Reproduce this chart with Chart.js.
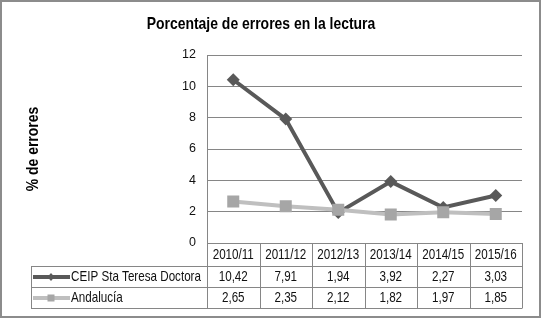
<!DOCTYPE html>
<html>
<head>
<meta charset="utf-8">
<script src="https://cdn.jsdelivr.net/npm/chart.js@4.4.1/dist/chart.umd.min.js"></script>
<style>
  body { margin: 0; background: #fff; }
  canvas { display: block; }
</style>
</head>
<body>
<canvas id="chartErrores" width="542" height="320"></canvas>
<script>
// Datos del gráfico
var cursos = ['2010/11', '2011/12', '2012/13', '2013/14', '2014/15', '2015/16'];
var valoresCentro = [10.42, 7.91, 1.94, 3.92, 2.27, 3.03];
var valoresAndalucia = [2.65, 2.35, 2.12, 1.82, 1.97, 1.85];
var nombreCentro = 'CEIP Sta Teresa Doctora';
var nombreAndalucia = 'Andalucía';
var ticksY = [0, 2, 4, 6, 8, 10, 12];

var fuente = "'Liberation Sans', Arial, sans-serif";
var estrecho = 0.82; // Arial Narrow no está instalada: se comprime Liberation Sans
var gris = '#868686';
var colorCentro = '#595959';
var colorAndalucia = '#bfbfbf';
var marcaAndalucia = '#a6a6a6';

function formatear(v) {
    return v.toFixed(2).replace('.', ',');
}

// escribe un texto comprimido en horizontal
function textoEstrecho(ctx, texto, x, y, alinear, giro) {
    ctx.save();
    ctx.translate(x, y);
    if (giro) ctx.rotate(giro);
    ctx.scale(estrecho, 1);
    ctx.textAlign = alinear;
    ctx.textBaseline = 'middle';
    ctx.fillText(texto, 0, 0);
    ctx.restore();
}

// Marco, títulos y tabla de datos bajo el gráfico
const tablaDatos = {
    id: 'tablaDatos',
    afterDraw(chart) {
        const ctx = chart.ctx;
        const area = chart.chartArea;
        const escalaX = chart.scales.x;
        const ancho = (area.right - area.left) / cursos.length;

        ctx.save();

        // marco exterior
        ctx.strokeStyle = '#8c8c8c';
        ctx.lineWidth = 2;
        ctx.strokeRect(1, 1, 539, 316);

        // título y título del eje Y
        ctx.fillStyle = '#000';
        ctx.font = 'bold 17px ' + fuente;
        textoEstrecho(ctx, 'Porcentaje de errores en la lectura', 261, 24, 'center');
        textoEstrecho(ctx, '% de errores', 33, 149, 'center', -Math.PI / 2);

        const yCab = area.bottom;
        const yFila1 = 266;
        const yFila2 = 287;
        const yFin = 308;
        const xLeyenda = 31;

        ctx.strokeStyle = gris;
        ctx.lineWidth = 1;
        ctx.beginPath();
        // líneas verticales de las columnas
        for (var i = 0; i <= cursos.length; i++) {
            var xl = Math.round(area.left + ancho * i) + 0.5;
            ctx.moveTo(xl, yCab);
            ctx.lineTo(xl, yFin);
        }
        // líneas horizontales
        [yFila1, yFila2, yFin].forEach(function (y) {
            ctx.moveTo(xLeyenda, y + 0.5);
            ctx.lineTo(Math.round(area.right) + 0.5, y + 0.5);
        });
        ctx.moveTo(xLeyenda + 0.5, yFila1);
        ctx.lineTo(xLeyenda + 0.5, yFin);
        ctx.stroke();

        ctx.fillStyle = '#111';
        ctx.font = '14.2px ' + fuente;
        for (var j = 0; j < cursos.length; j++) {
            var xc = escalaX.getPixelForValue(j);
            textoEstrecho(ctx, cursos[j], xc, 255, 'center');
            textoEstrecho(ctx, formatear(valoresCentro[j]), xc, 277, 'center');
            textoEstrecho(ctx, formatear(valoresAndalucia[j]), xc, 298, 'center');
        }

        // claves de la leyenda
        ctx.lineWidth = 4;
        ctx.strokeStyle = colorCentro;
        ctx.beginPath();
        ctx.moveTo(33, 277);
        ctx.lineTo(70, 277);
        ctx.stroke();
        ctx.fillStyle = colorCentro;
        ctx.beginPath();
        ctx.moveTo(51, 273);
        ctx.lineTo(54.5, 277);
        ctx.lineTo(51, 281);
        ctx.lineTo(47.5, 277);
        ctx.closePath();
        ctx.fill();

        ctx.strokeStyle = colorAndalucia;
        ctx.beginPath();
        ctx.moveTo(33, 298);
        ctx.lineTo(70, 298);
        ctx.stroke();
        ctx.fillStyle = marcaAndalucia;
        ctx.fillRect(47.5, 294.5, 7, 7);

        ctx.fillStyle = '#111';
        textoEstrecho(ctx, nombreCentro, 71, 277, 'left');
        textoEstrecho(ctx, nombreAndalucia, 71, 298, 'left');

        ctx.restore();
    }
};

const config = {
    type: 'line',
    data: {
        labels: cursos,
        datasets: [
            {
                label: nombreCentro,
                data: valoresCentro,
                borderColor: colorCentro,
                backgroundColor: colorCentro,
                borderWidth: 4,
                pointStyle: 'rectRot',
                pointRadius: 6.5,
                pointBorderWidth: 0,
                tension: 0,
                order: 1
            },
            {
                label: nombreAndalucia,
                data: valoresAndalucia,
                borderColor: colorAndalucia,
                backgroundColor: marcaAndalucia,
                borderWidth: 4,
                pointStyle: 'rect',
                pointRadius: 8.5,
                pointBorderWidth: 0,
                tension: 0,
                order: 0
            }
        ]
    },
    options: {
        responsive: false,
        animation: false,
        layout: { padding: { left: 0, right: 20, top: 55, bottom: 0 } },
        plugins: {
            legend: { display: false },
            tooltip: { enabled: false },
            title: { display: false }
        },
        scales: {
            x: {
                offset: true,
                grid: { display: false },
                border: { display: false },
                ticks: { display: false },
                afterFit: function (escala) { escala.height = 77; }
            },
            y: {
                min: 0,
                max: 12,
                afterBuildTicks: function (escala) {
                    escala.ticks = ticksY.map(function (v) { return { value: v }; });
                },
                grid: { color: gris, drawTicks: false },
                border: { display: true, color: gris },
                ticks: {
                    padding: 11,
                    color: '#111',
                    font: { family: fuente, size: 12.5 }
                },
                afterFit: function (escala) { escala.width = 207; }
            }
        }
    },
    plugins: [tablaDatos]
};

let grafico = new Chart(document.getElementById('chartErrores'), config);
</script>
</body>
</html>
